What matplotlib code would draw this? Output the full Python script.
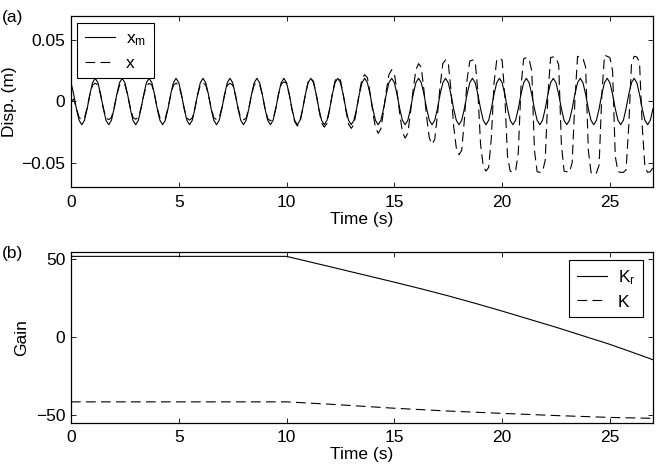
import matplotlib
matplotlib.use("Agg")
import matplotlib.pyplot as plt
import numpy as np

plt.rcParams["font.family"] = ["Liberation Sans", "DejaVu Sans"]
plt.rcParams["mathtext.default"] = "regular"
plt.rcParams["lines.scale_dashes"] = False

# sample step of the displacement records (s)
dt = 0.125

# reference model displacement x_m (m), one line per period
x_m = [
    0.0154, 0.0059, -0.0059, -0.0154, -0.0190, -0.0154, -0.0059, 0.0059, 0.0154, 0.0190,
    0.0154, 0.0059, -0.0059, -0.0154, -0.0190, -0.0154, -0.0059, 0.0059, 0.0154, 0.0190,
    0.0154, 0.0059, -0.0059, -0.0154, -0.0190, -0.0154, -0.0059, 0.0059, 0.0154, 0.0190,
    0.0154, 0.0059, -0.0059, -0.0154, -0.0190, -0.0154, -0.0059, 0.0059, 0.0154, 0.0190,
    0.0154, 0.0059, -0.0059, -0.0154, -0.0190, -0.0154, -0.0059, 0.0059, 0.0154, 0.0190,
    0.0154, 0.0059, -0.0059, -0.0154, -0.0190, -0.0154, -0.0059, 0.0059, 0.0154, 0.0190,
    0.0154, 0.0059, -0.0059, -0.0154, -0.0190, -0.0154, -0.0059, 0.0059, 0.0154, 0.0190,
    0.0154, 0.0059, -0.0059, -0.0154, -0.0190, -0.0154, -0.0059, 0.0059, 0.0154, 0.0190,
    0.0154, 0.0059, -0.0059, -0.0154, -0.0190, -0.0154, -0.0059, 0.0059, 0.0154, 0.0190,
    0.0154, 0.0059, -0.0059, -0.0154, -0.0190, -0.0154, -0.0059, 0.0059, 0.0154, 0.0190,
    0.0154, 0.0059, -0.0059, -0.0154, -0.0190, -0.0154, -0.0059, 0.0059, 0.0154, 0.0190,
    0.0154, 0.0059, -0.0059, -0.0154, -0.0190, -0.0154, -0.0059, 0.0059, 0.0154, 0.0190,
    0.0154, 0.0059, -0.0059, -0.0154, -0.0190, -0.0154, -0.0059, 0.0059, 0.0154, 0.0190,
    0.0154, 0.0059, -0.0059, -0.0154, -0.0190, -0.0154, -0.0059, 0.0059, 0.0154, 0.0190,
    0.0154, 0.0059, -0.0059, -0.0154, -0.0190, -0.0154, -0.0059, 0.0059, 0.0154, 0.0190,
    0.0154, 0.0059, -0.0059, -0.0154, -0.0190, -0.0154, -0.0059, 0.0059, 0.0154, 0.0190,
    0.0154, 0.0059, -0.0059, -0.0154, -0.0190, -0.0154, -0.0059, 0.0059, 0.0154, 0.0190,
    0.0154, 0.0059, -0.0059, -0.0154, -0.0190, -0.0154, -0.0059, 0.0059, 0.0154, 0.0190,
    0.0154, 0.0059, -0.0059, -0.0154, -0.0190, -0.0154, -0.0059, 0.0059, 0.0154, 0.0190,
    0.0154, 0.0059, -0.0059, -0.0154, -0.0190, -0.0154, -0.0059, 0.0059, 0.0154, 0.0190,
    0.0154, 0.0059, -0.0059, -0.0154, -0.0190, -0.0154, -0.0059, 0.0059, 0.0154, 0.0190,
    0.0154, 0.0059, -0.0059, -0.0154, -0.0190, -0.0154, -0.0059,
]

# measured displacement x (m), same sampling
x = [
    0.0000, 0.0020, -0.0055, -0.0130, -0.0150, -0.0135, -0.0050, 0.0055, 0.0135, 0.0150,
    0.0135, 0.0052, -0.0052, -0.0135, -0.0148, -0.0132, -0.0050, 0.0052, 0.0132, 0.0152,
    0.0138, 0.0054, -0.0050, -0.0130, -0.0145, -0.0130, -0.0052, 0.0050, 0.0130, 0.0148,
    0.0136, 0.0053, -0.0054, -0.0134, -0.0150, -0.0136, -0.0054, 0.0052, 0.0134, 0.0150,
    0.0134, 0.0050, -0.0055, -0.0136, -0.0152, -0.0134, -0.0051, 0.0054, 0.0136, 0.0152,
    0.0137, 0.0054, -0.0052, -0.0133, -0.0148, -0.0133, -0.0050, 0.0053, 0.0133, 0.0149,
    0.0135, 0.0051, -0.0053, -0.0135, -0.0150, -0.0137, -0.0055, 0.0055, 0.0138, 0.0155,
    0.0140, 0.0056, -0.0056, -0.0140, -0.0158, -0.0142, -0.0056, 0.0056, 0.0142, 0.0160,
    0.0150, 0.0058, -0.0065, -0.0165, -0.0200, -0.0170, -0.0060, 0.0060, 0.0160, 0.0190,
    0.0165, 0.0062, -0.0068, -0.0175, -0.0210, -0.0180, -0.0065, 0.0065, 0.0170, 0.0200,
    0.0175, 0.0065, -0.0072, -0.0185, -0.0220, -0.0190, -0.0070, 0.0072, 0.0185, 0.0220,
    0.0195, 0.0070, -0.0085, -0.0215, -0.0260, -0.0225, -0.0080, 0.0085, 0.0220, 0.0260,
    0.0230, 0.0080, -0.0100, -0.0250, -0.0300, -0.0260, -0.0090, 0.0100, 0.0260, 0.0310,
    0.0280, 0.0090, -0.0130, -0.0300, -0.0350, -0.0310, -0.0110, 0.0130, 0.0310, 0.0340,
    0.0320, 0.0100, -0.0200, -0.0380, -0.0435, -0.0400, -0.0150, 0.0180, 0.0330, 0.0340,
    0.0330, 0.0080, -0.0350, -0.0530, -0.0570, -0.0540, -0.0300, 0.0150, 0.0340, 0.0355,
    0.0340, 0.0050, -0.0450, -0.0570, -0.0580, -0.0570, -0.0420, 0.0120, 0.0350, 0.0360,
    0.0350, 0.0250, -0.0400, -0.0575, -0.0580, -0.0575, -0.0480, 0.0050, 0.0360, 0.0365,
    0.0360, 0.0300, -0.0350, -0.0570, -0.0575, -0.0580, -0.0500, 0.0000, 0.0370, 0.0360,
    0.0355, 0.0280, -0.0400, -0.0580, -0.0600, -0.0585, -0.0520, 0.0050, 0.0380, 0.0370,
    0.0360, 0.0250, -0.0450, -0.0575, -0.0580, -0.0580, -0.0560, -0.0200, 0.0300, 0.0370,
    0.0365, 0.0320, -0.0200, -0.0540, -0.0580, -0.0575, -0.0540,
]

# gains
t_kr = [0, 10, 12, 15, 16.25, 17.5, 18.75, 20, 22.5, 25, 26, 27]
k_r = [52, 52, 45.4, 35.4, 31.1, 26.6, 21.8, 16.8, 6.4, -4.6, -9.5, -14.5]
t_k = [0, 10, 12, 15, 17.5, 20, 22.5, 25, 27]
k = [-41.6, -41.6, -43.1, -45.7, -47.5, -49, -50.4, -51.6, -52.2]

disp_ticks = [-0.05, 0, 0.05]
disp_tick_labels = ["\u22120.05", "0", "0.05"]
gain_ticks = [-50, 0, 50]
gain_tick_labels = ["\u221250", "0", "50"]
time_ticks = [0, 5, 10, 15, 20, 25]

FS = 12.5
DASH = (7, 3.8)


def style_axes(ax):
    ax.tick_params(direction="in", top=True, right=True, length=3.6,
                   width=0.6, labelsize=FS, pad=5.5)
    ax.tick_params(axis="y", pad=4)
    for s in ax.spines.values():
        s.set_linewidth(0.9)
    ax.set_xticks(time_ticks)
    ax.set_xlim(0, 27)


def add_legend(ax, **kw):
    leg = ax.legend(borderaxespad=0, fontsize=FS, fancybox=False,
                    edgecolor="black", framealpha=1, handlelength=1.75,
                    labelspacing=0.45, borderpad=0.45, handletextpad=0.6,
                    **kw)
    leg.get_frame().set_linewidth(0.8)
    return leg


def main():
    t = dt * np.arange(len(x_m))

    fig = plt.figure(figsize=(6.58, 4.76), dpi=100)
    ax1 = fig.add_axes([71 / 658, 1 - 187 / 476, 582 / 658, 171 / 476])
    ax2 = fig.add_axes([71 / 658, 1 - 422.7 / 476, 582 / 658, 171 / 476])

    ax1.plot(t, x_m, color="black", lw=0.8, label="x$_{m}$")
    ax1.plot(t, x, color="black", lw=0.8, dashes=DASH, label="x")
    style_axes(ax1)
    ax1.set_ylim(-0.07, 0.07)
    ax1.set_yticks(disp_ticks)
    ax1.set_yticklabels(disp_tick_labels)
    ax1.set_xlabel("Time (s)", fontsize=FS, labelpad=2)
    ax1.set_ylabel("Disp. (m)", fontsize=FS)
    ax1.yaxis.set_label_coords(-0.0928, 0.5)
    add_legend(ax1, loc="upper left", bbox_to_anchor=(0.0108, 0.959))

    ax2.plot(t_kr, k_r, color="black", lw=0.8, label="K$_{r}$")
    ax2.plot(t_k, k, color="black", lw=0.8, dashes=DASH, label="K")
    style_axes(ax2)
    ax2.set_ylim(-55, 55)
    ax2.set_yticks(gain_ticks)
    ax2.set_yticklabels(gain_tick_labels)
    ax2.set_xlabel("Time (s)", fontsize=FS, labelpad=1)
    ax2.set_ylabel("Gain", fontsize=FS)
    ax2.yaxis.set_label_coords(-0.072, 0.5)
    add_legend(ax2, loc="upper right", bbox_to_anchor=(0.983, 0.951))

    fig.text(0.003, 1 - 17.5 / 476, "(a)", fontsize=FS, va="center", ha="left")
    fig.text(0.003, 1 - 253.5 / 476, "(b)", fontsize=FS, va="center", ha="left")

    fig.savefig("out.png", dpi=100)
    plt.close(fig)


if __name__ == "__main__":
    main()
